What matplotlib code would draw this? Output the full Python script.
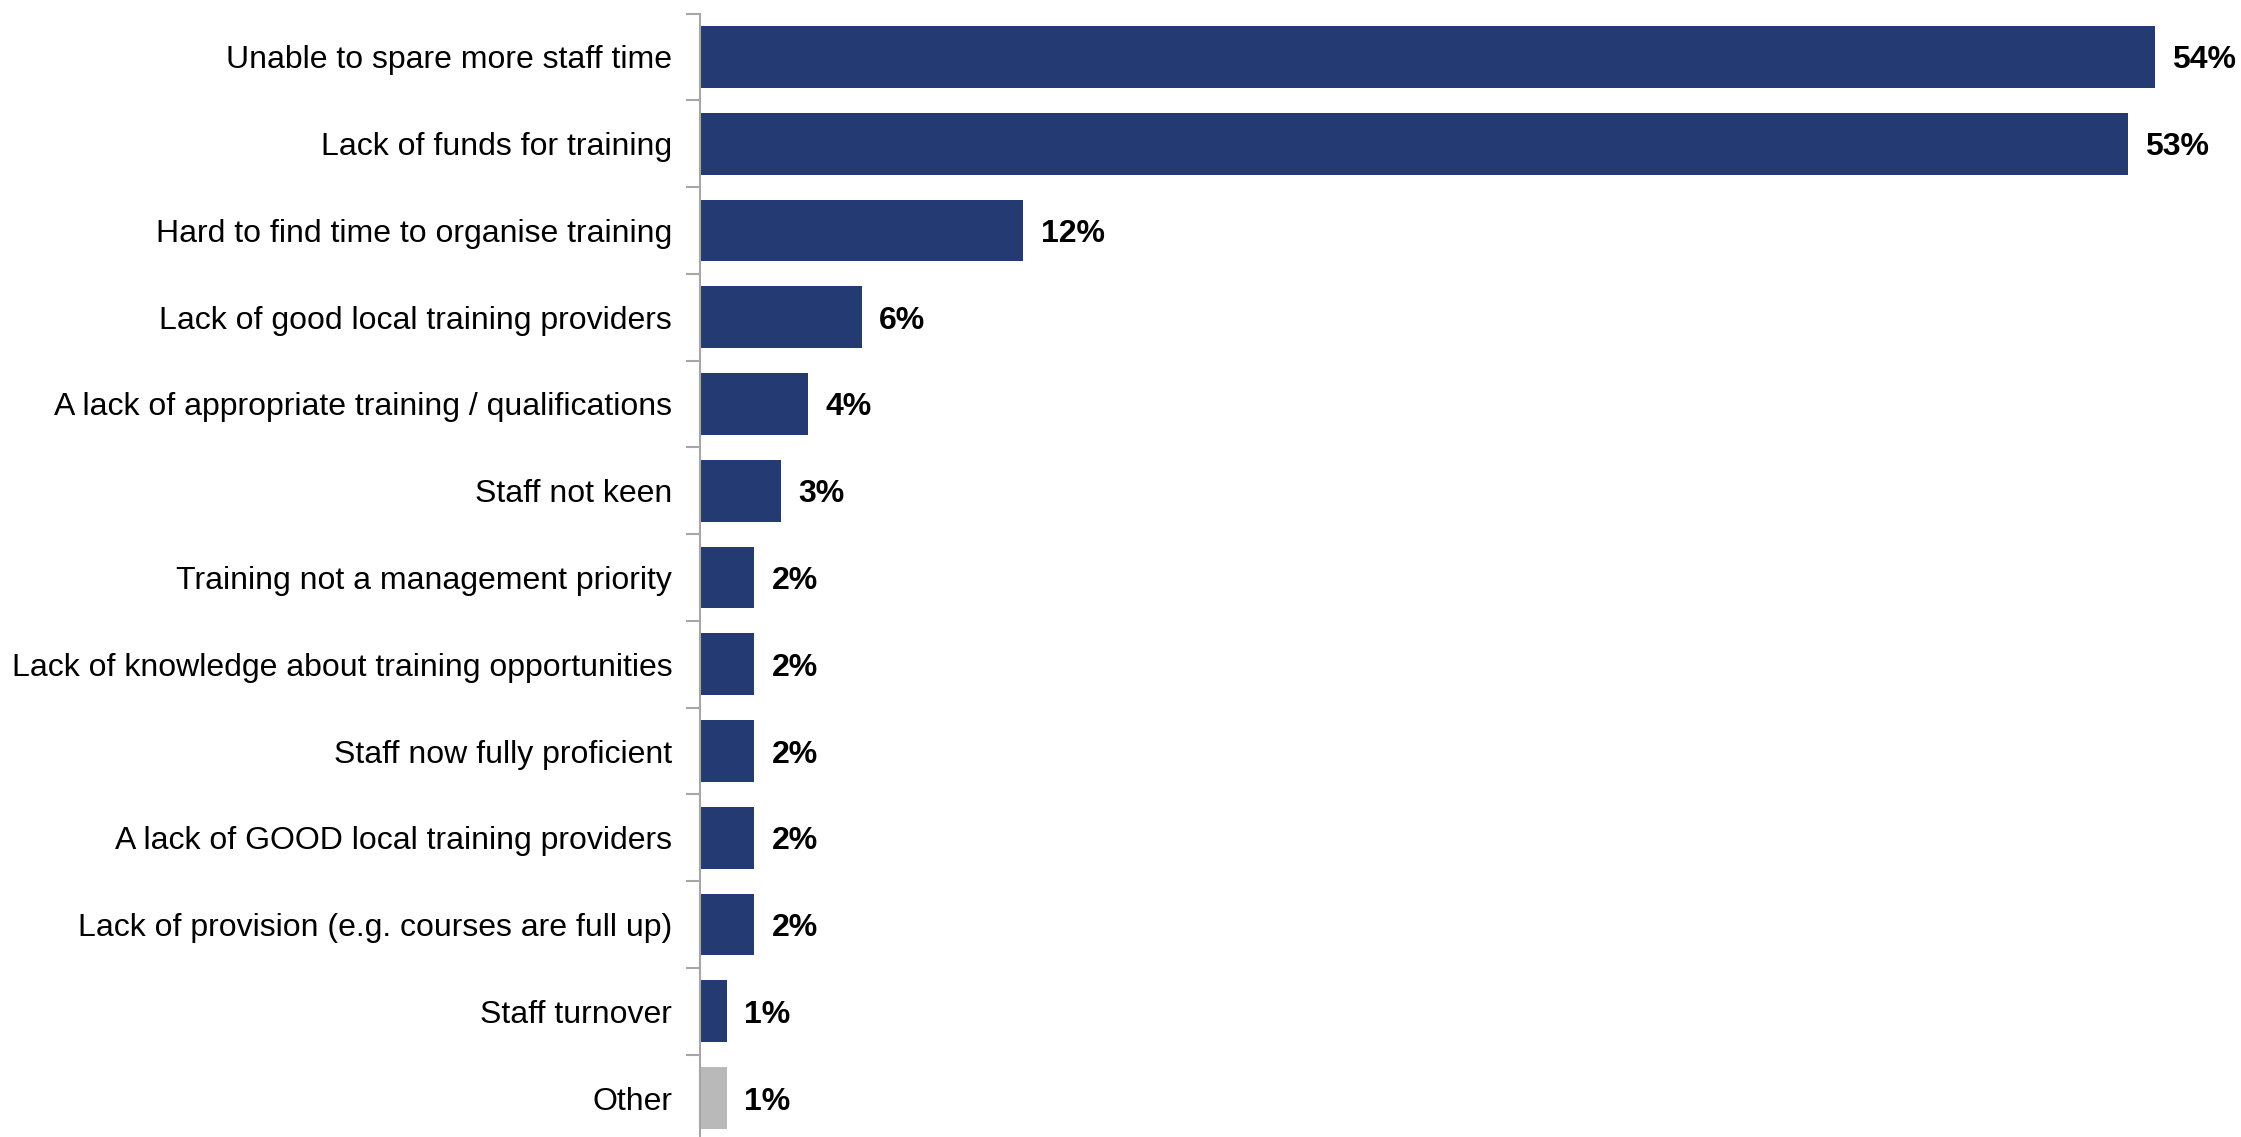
import matplotlib.pyplot as plt
import numpy as np

plt.rcParams['font.family'] = ['Liberation Sans', 'DejaVu Sans']

categories = ['Unable to spare more staff time',
              'Lack of funds for training',
              'Hard to find time to organise training',
              'Lack of good local training providers',
              'A lack of appropriate training / qualifications',
              'Staff not keen',
              'Training not a management priority',
              'Lack of knowledge about training opportunities',
              'Staff now fully proficient',
              'A lack of GOOD local training providers',
              'Lack of provision (e.g. courses are full up)',
              'Staff turnover',
              'Other']
values = [54, 53, 12, 6, 4, 3, 2, 2, 2, 2, 2, 1, 1]
navy = '#243A73'
grey = '#B9B9B9'
colors = [navy] * 12 + [grey]

W, H = 2241, 1137
fig = plt.figure(figsize=(W / 100, H / 100), dpi=100)
# axes placed in pixel terms: left at x=700, top boundary y=13.6, bottom y=1141.4
ax = fig.add_axes([700 / W, 1 - 1141.4 / H, (W - 700) / W, (1141.4 - 13.6) / H])

y = np.arange(len(categories))
ax.barh(y, values, height=0.71, color=colors)
ax.set_ylim(len(categories) - 0.5, -0.5)
ax.set_xlim(0, (W - 700) / 26.94)

for yi, v in zip(y, values):
    ax.text(v + 0.65, yi, f'{v}%', va='center_baseline', ha='left',
            fontsize=23, fontweight='bold', color='black')

ax.set_yticks(y)
ax.set_yticklabels(categories, fontsize=23, va='center_baseline')
ax.set_yticks(np.arange(len(categories) + 1) - 0.5, minor=True)
ax.tick_params(axis='y', which='major', length=0, pad=20)
ax.tick_params(axis='y', which='minor', length=10, width=1.5, color='#A6A6A6')
ax.set_xticks([])

for s in ['top', 'right', 'bottom']:
    ax.spines[s].set_visible(False)
ax.spines['left'].set_color('#A6A6A6')
ax.spines['left'].set_linewidth(1.5)

fig.savefig('out.png', dpi=100)
